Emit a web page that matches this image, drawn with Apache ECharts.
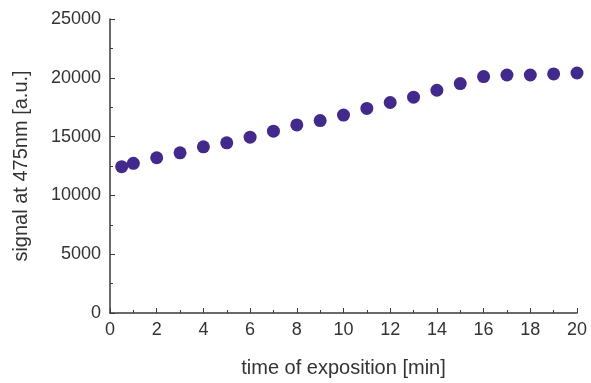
<!DOCTYPE html>
<html>
<head>
<meta charset="utf-8">
<script src="https://cdn.jsdelivr.net/npm/echarts@6/dist/echarts.min.js"></script>
<style>
  html, body { margin: 0; padding: 0; background: #fff; }
  #chart { width: 591px; height: 383px; }
</style>
</head>
<body>
<div id="chart"></div>
<script>
// exposure time [min]
const times = [0.5, 1, 2, 3, 4, 5, 6, 7, 8, 9, 10, 11, 12, 13, 14, 15, 16, 17, 18, 19, 20]
// signal at 475nm [a.u.]
const signal = [12440, 12730, 13200, 13620, 14130, 14470, 14950, 15460, 15990, 16360,
  16830, 17400, 17900, 18350, 18940, 19510, 20100, 20240, 20240, 20330, 20410]

const fontFamily = '"Liberation Sans", Arial, sans-serif'
const axisColor = '#3a3a3a'
const textColor = '#333'

const chart = echarts.init(document.getElementById('chart'))

chart.setOption({
  animation: false,
  textStyle: { fontFamily },
  grid: { left: 110, right: 14, top: 19, bottom: 68 },
  xAxis: {
    type: 'value',
    min: 0,
    max: 20,
    interval: 2,
    name: 'time of exposition [min]',
    nameLocation: 'middle',
    nameGap: 45,
    nameTextStyle: { fontSize: 20, color: textColor, fontFamily },
    axisLine: { show: true, lineStyle: { color: axisColor, width: 1.5 } },
    axisTick: { show: true, inside: true, length: 5, lineStyle: { color: axisColor } },
    minorTick: { show: true, splitNumber: 2, length: 3, lineStyle: { color: axisColor } },
    axisLabel: { fontSize: 18, color: textColor, margin: 8, fontFamily },
    splitLine: { show: false }
  },
  yAxis: {
    type: 'value',
    min: 0,
    max: 25000,
    interval: 5000,
    name: 'signal at 475nm [a.u.]',
    nameLocation: 'middle',
    nameGap: 79,
    nameTextStyle: { fontSize: 20, color: textColor, fontFamily },
    axisLine: { show: true, lineStyle: { color: axisColor, width: 1.5 } },
    axisTick: { show: true, inside: true, length: 5, lineStyle: { color: axisColor } },
    minorTick: { show: true, splitNumber: 2, length: 3, lineStyle: { color: axisColor } },
    axisLabel: { fontSize: 18, color: textColor, margin: 9, fontFamily, formatter: v => String(v) },
    splitLine: { show: false }
  },
  series: [{
    type: 'scatter',
    symbol: 'circle',
    symbolSize: 13,
    itemStyle: { color: '#42298c', opacity: 1 },
    data: times.map((t, i) => [t, signal[i]])
  }]
})
</script>
</body>
</html>
